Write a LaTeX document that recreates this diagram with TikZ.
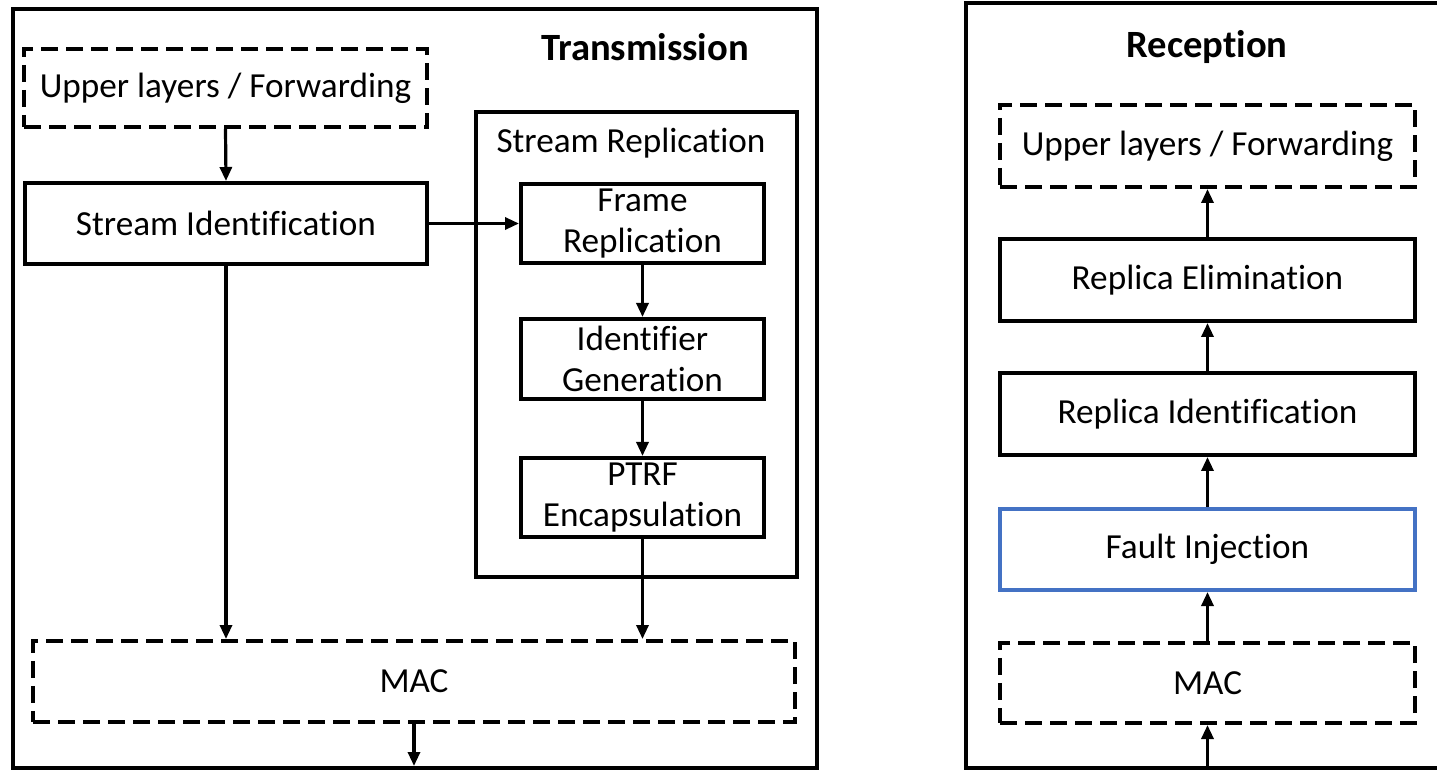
\documentclass[tikz,border=0pt]{standalone}
\usepackage{fontspec}
\setmainfont{Carlito}[Ligatures=NoCommon]
\usetikzlibrary{arrows.meta}
\definecolor{fiblue}{RGB}{68,114,196}
\tikzset{
  box/.style={draw=black, line width=2pt, inner sep=0pt, align=center,
    font=\fontsize{17.6}{20.5}\selectfont},
  dbox/.style={box, dash pattern=on 8.5pt off 4pt},
  frame/.style={draw=black, line width=2.25pt},
  arr/.style={line width=1.6pt, -{Triangle[length=7pt,width=6pt]}},
  title/.style={font=\fontsize{19.3}{22}\selectfont\bfseries, inner sep=0pt},
}
\begin{document}
\begin{tikzpicture}[x=0.5pt,y=-0.5pt]
\useasboundingbox (0,0) rectangle (1437,770);
% frames
\draw[frame] (13,9) rectangle (817,768);
\draw[frame] (966,3) rectangle (1450,768);
\node[title] (ttx) at (645,47) {Transmission};
\node[title] (trx) at (1207,47) {Reception};
% transmission side
\node[dbox, minimum width=201.5pt, minimum height=39pt] (upL) at (225.5,88) {Upper layers / Forwarding};
\node[box, minimum width=201pt, minimum height=40.5pt] (sid) at (226,223.5) {Stream Identification};
\node[box, minimum width=160.5pt, minimum height=232.5pt] (srep) at (636.5,344.5) {};
\node[inner sep=0pt, font=\fontsize{17.6}{20.5}\selectfont] (srepl) at (631,143) {Stream Replication};
\node[box, minimum width=121.5pt, minimum height=39.5pt] (frep) at (642.5,223.5) {Frame\\Replication};
\node[box, minimum width=121.5pt, minimum height=40pt] (igen) at (642.5,359) {Identifier\\Generation};
\node[box, minimum width=121.5pt, minimum height=39.5pt] (ptrf) at (642.5,497.5) {PTRF\\Encapsulation};
\node[dbox, minimum width=381pt, minimum height=40.5pt] (macL) at (414,681.5) {MAC};
\coordinate (outL) at (414,766);
\draw[arr] (upL.south) -- (sid.north);
\draw[arr] (sid.east) -- (frep.west);
\draw[arr] (frep.south) -- (igen.north);
\draw[arr] (igen.south) -- (ptrf.north);
\draw[arr] (sid.south) -- (sid.south |- macL.north);
\draw[arr] (ptrf.south) -- (ptrf.south |- macL.north);
\draw[arr] (macL.south) -- (outL);
% reception side
\node[dbox, minimum width=207.5pt, minimum height=41pt] (upR) at (1207.5,146) {Upper layers / Forwarding};
\node[box, minimum width=207.5pt, minimum height=41pt] (relim) at (1207.5,280) {Replica Elimination};
\node[box, minimum width=207.5pt, minimum height=41pt] (rid) at (1207.5,414) {Replica Identification};
\node[box, draw=fiblue, minimum width=207.5pt, minimum height=40.5pt] (fi) at (1207.5,549.5) {Fault Injection};
\node[dbox, minimum width=207.5pt, minimum height=40pt] (macR) at (1207.5,683) {MAC};
\coordinate (inR) at (1207.5,768);
\draw[arr] (inR) -- (macR.south);
\draw[arr] (macR.north) -- (fi.south);
\draw[arr] (fi.north) -- (rid.south);
\draw[arr] (rid.north) -- (relim.south);
\draw[arr] (relim.north) -- (upR.south);
\end{tikzpicture}
\end{document}
